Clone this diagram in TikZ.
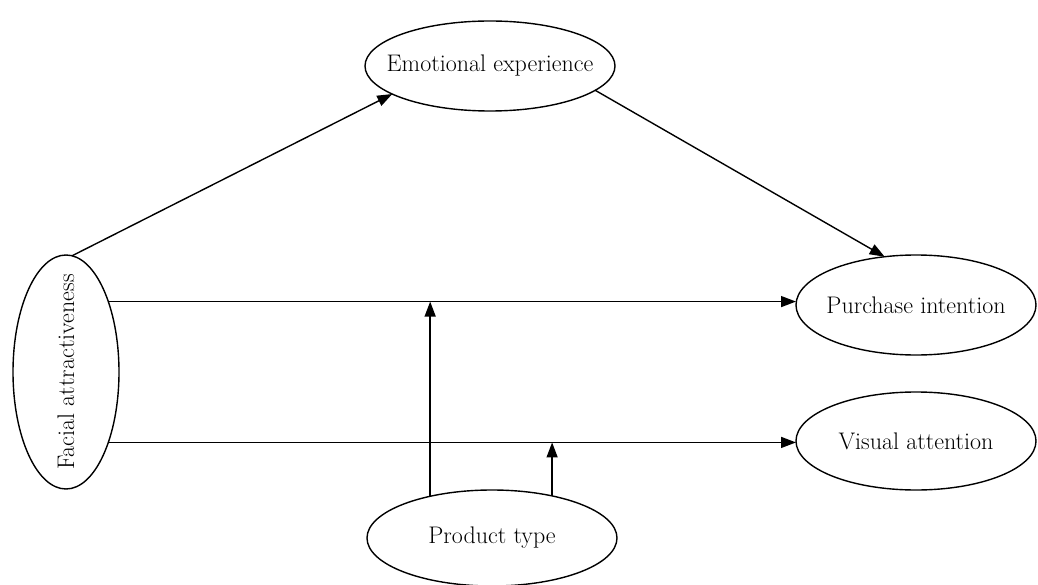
\documentclass[tikz,border=0pt]{standalone}
\usepackage{xcolor}
\usepackage{tikz}
\usetikzlibrary{shapes.geometric,arrows.meta}

\newcommand{\vname}[1]{\makebox[0pt]{#1}}

\begin{document}
\begin{tikzpicture}[x=1pt, y=-1pt, inner sep=0pt, outer sep=0pt,
    var/.style={draw, ellipse, line width=1.4pt, font=\fontsize{24}{28}\selectfont},
    arr/.style={draw, line width=1.4pt, -{Triangle[length=15pt,width=11pt]}}]
  \useasboundingbox (0,0) rectangle (1038,585);
  % variables
  \node[var, minimum width=250pt, minimum height=90pt] (ee) at (490,66) {\vname{Emotional experience}};
  \node[var, minimum width=106pt, minimum height=234pt] (fa) at (66,372) {\rotatebox{90}{\vname{Facial attractiveness}}};
  \node[var, minimum width=240pt, minimum height=100pt] (pi) at (916,305) {\vname{Purchase intention}};
  \node[var, minimum width=240pt, minimum height=98pt] (va) at (916,441) {\vname{Visual attention}};
  \node[var, minimum width=250pt, minimum height=96pt] (pt) at (492,538) {\vname{Product type}};
  % paths
  \path[arr] (fa.87) -- (ee.196);
  \path[arr] (ee.-13) -- (pi.123);
  \path[arr] (fa.59) -- (fa.59 -| pi.west);
  \path[arr] (fa.-59) -- (fa.-59 -| va.west);
  \path[arr] (pt.146) -- (pt.146 |- fa.59);
  \path[arr] (pt.35) -- (pt.35 |- fa.-59);
\end{tikzpicture}
\end{document}
